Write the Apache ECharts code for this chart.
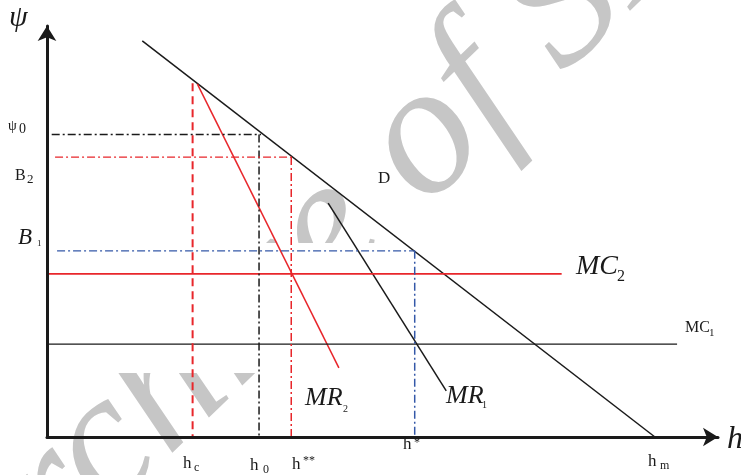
<!DOCTYPE html>
<html>
<head>
<meta charset="utf-8">
<script src="https://cdn.jsdelivr.net/npm/echarts@6/dist/echarts.min.js"></script>
<style>
  html, body { margin: 0; padding: 0; background: #fff; }
  #chart { width: 741px; height: 475px; }
</style>
</head>
<body>
<div id="chart"></div>
<script>
// end points of the curves, in chart units (h and psi both 0-100)
const demand = [[14.2, 96.4], [90.6, 0]];
const mr1 = [[41.9, 56.9], [59.5, 11.2]];
const mr2 = [[22.4, 85.9], [43.5, 16.8]];

// marginal cost levels and where the lines stop
const mcLevels = [22.6, 39.7];   // MC1, MC2
const mcEnds = [93.9, 76.7];

// marked points on the h axis: hc, h0, h**, h*, hm
const hValues = [21.7, 31.6, 36.4, 54.8, 90.6];
// marked points on the psi axis: psi0, B2, B1
const psiValues = [73.6, 68.1, 45.3];
const psiEnds = [31.9, 36.5, 54.8];
const psiStarts = [0.7, 1.2, 1.5];
const hcTop = 86.1;

const RED = '#e8262b';
const BLACK = '#1a1a1a';
const BLUE = '#3458a8';
const DASHDOT = [8, 3, 2, 3];

const myChart = echarts.init(document.getElementById('chart'));

function seg(data, color, width, type) {
  return {
    type: 'line',
    data: data,
    symbol: 'none',
    silent: true,
    z: 10,
    lineStyle: { color: color, width: width, type: type || 'solid' }
  };
}

// guide lines: horizontal from the psi axis, then down to the h axis
const guideColors = [BLACK, RED, BLUE];
const guideH = [hValues[1], hValues[2], hValues[3]];
const guides = [];
psiValues.forEach(function (v, i) {
  guides.push(seg([[psiStarts[i], v], [psiEnds[i], v]], guideColors[i], 1.3, DASHDOT));
  guides.push(seg([[guideH[i], v], [guideH[i], 0]], guideColors[i], 1.5, DASHDOT));
});

function txt(text, x, y, font, extra) {
  return Object.assign({
    type: 'text', x: x, y: y, z: 20, silent: true,
    style: { text: text, font: font, fill: BLACK, align: 'left', verticalAlign: 'middle' }
  }, extra || {});
}
const SERIF = '"Liberation Serif", "DejaVu Serif", serif';

const option = {
  animation: false,
  grid: { left: 47, right: 23, top: 26, bottom: 38 },
  xAxis: {
    type: 'value', min: 0, max: 100, z: 12,
    axisLine: { show: true, symbol: ['none', 'arrow'], symbolSize: [14, 15],
      lineStyle: { color: BLACK, width: 3 } },
    axisTick: { show: false }, axisLabel: { show: false }, splitLine: { show: false }
  },
  yAxis: {
    type: 'value', min: 0, max: 100, z: 12,
    axisLine: { show: true, symbol: ['none', 'arrow'], symbolSize: [14, 15],
      lineStyle: { color: BLACK, width: 3 } },
    axisTick: { show: false }, axisLabel: { show: false }, splitLine: { show: false }
  },
  series: [
    seg(demand, BLACK, 1.5),
    seg(mr1, BLACK, 1.5),
    seg(mr2, RED, 1.5),
    seg([[0, mcLevels[0]], [mcEnds[0], mcLevels[0]]], BLACK, 1.4),
    seg([[0, mcLevels[1]], [mcEnds[1], mcLevels[1]]], RED, 1.6),
    seg([[hValues[0], hcTop], [hValues[0], 0]], RED, 2, [8, 5])
  ].concat(guides),
  graphic: [
    // watermark, partly hidden behind the figure
    {
      type: 'text', x: -56, y: 605, rotation: 44 * Math.PI / 180, z: 0, silent: true,
      style: { text: 'Archive of SID', font: 'italic 187px ' + SERIF, fill: '#c6c6c6',
        align: 'left', verticalAlign: 'middle' }
    },
    { type: 'rect', z: 1, silent: true, shape: { x: 49, y: 243, width: 700, height: 130 }, style: { fill: '#fff' } },
    { type: 'rect', z: 1, silent: true, shape: { x: 258, y: 373, width: 490, height: 63 }, style: { fill: '#fff' } },

    txt('ψ', 9, 18, 'italic 30px ' + SERIF),
    txt('h', 727, 440, 'italic 32px ' + SERIF),

    txt('ψ', 8, 126, '14px ' + SERIF),
    txt('0', 19, 129, '14px ' + SERIF),
    txt('B', 15, 176, '16px ' + SERIF),
    txt('2', 27, 180, '13px ' + SERIF),
    txt('B', 18, 238, 'italic 23px ' + SERIF),
    txt('1', 37, 244, '9px ' + SERIF),

    txt('D', 378, 179, '17px ' + SERIF),
    txt('MC', 576, 267, 'italic 28px ' + SERIF),
    txt('2', 617, 277, '16px ' + SERIF),
    txt('MC', 685, 328, '16px ' + SERIF),
    txt('1', 709, 333, '11px ' + SERIF),
    txt('MR', 305, 398, 'italic 26px ' + SERIF),
    txt('2', 343, 409, '10px ' + SERIF),
    txt('MR', 446, 396, 'italic 26px ' + SERIF),
    txt('1', 482, 405, '10px ' + SERIF),

    txt('h', 183, 464, '17px ' + SERIF),
    txt('c', 194, 468, '12px ' + SERIF),
    txt('h', 250, 466, '17px ' + SERIF),
    txt('0', 263, 470, '12px ' + SERIF),
    txt('h', 292, 465, '17px ' + SERIF),
    txt('**', 303, 461, '12px ' + SERIF),
    txt('h', 403, 445, '17px ' + SERIF),
    txt('*', 414, 443, '12px ' + SERIF),
    txt('h', 648, 462, '17px ' + SERIF),
    txt('m', 660, 466, '12px ' + SERIF)
  ]
};

myChart.setOption(option);
</script>
</body>
</html>
